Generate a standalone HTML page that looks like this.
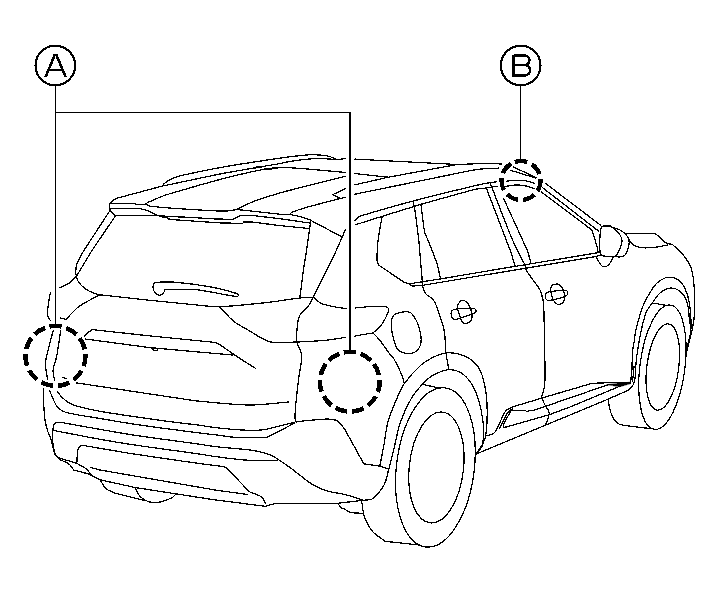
<!DOCTYPE html>
<html><head><meta charset="utf-8"><title>Diagram</title>
<style>
html,body{margin:0;padding:0;background:#fff;}
body{width:722px;height:592px;overflow:hidden;font-family:"Liberation Sans",sans-serif;}
svg{display:block}
</style></head><body>
<svg width="722" height="592" viewBox="0 0 722 592">
<rect width="722" height="592" fill="#fff"/>
<g shape-rendering="crispEdges" fill="none" stroke="#000" stroke-width="1.25" stroke-linecap="round" stroke-linejoin="round">
<path d="M161.8,186.2 C163,185 164.1,183.6 165.5,182.5 C166.8,181.4 168.4,180.6 169.9,179.8 C171.9,178.8 173.9,177.9 176,177.2 C178.1,176.4 180.3,175.8 182.5,175.3 C195.7,172.4 209,169.5 222.3,167.2 C241.3,163.8 260.4,161 279.5,158.2 C288.4,156.9 297.4,155.8 306.4,155 C309.6,154.7 312.8,154.7 316,154.8 C318.8,154.9 321.7,155.1 324.5,155.5 C326.7,155.8 328.9,156.3 331,157 C333.1,157.7 335.1,158.7 337.1,159.5"/>
<path d="M337.1,159.5 L345.8,158.6"/>
<path d="M109.4,206 C109.5,205.2 109.4,204.2 109.8,203.5 C110.2,202.7 111.1,202.1 111.8,201.5 C112.7,200.7 113.5,199.9 114.5,199.3 C115.6,198.7 116.9,198.4 118.1,197.9"/>
<path d="M118.1,197.9 L161.8,186.2 L222.3,173.5 L258.5,167.2 L279.8,163.6"/>
<path d="M279.8,163.6 C282.6,163 285.4,162.3 288.3,161.8 C293.2,161 298.1,160.1 303,159.6 C308.3,159 313.7,158.6 319,158.6 C325,158.6 331.1,159.2 337.1,159.5"/>
<path d="M254,167.9 L262,166.5" stroke-width="2"/>
<path d="M145.2,203.9 C146.8,203.1 148.4,202.2 150,201.5 C154.3,199.6 158.6,197.6 163,196 C167.6,194.3 172.4,193 177.1,191.6 C192.1,187.3 207.1,182.8 222.3,178.9 C236.7,175.2 251.1,171.6 265.7,169 C271.9,167.9 278.4,167.5 284.7,167.6 C293.7,167.7 302.8,168.7 311.8,169.4 C323.1,170.3 334.5,171.5 345.8,172.5"/>
<path d="M265,169.2 L277,168" stroke-width="2"/>
<path d="M236.8,209.3 C240.2,207.6 243.5,205.8 247,204.3 C250.8,202.6 254.6,201 258.5,199.7 C265.5,197.3 272.7,195.1 279.8,193 C285.6,191.3 291.5,189.9 297.3,188.4 C313.5,184.3 329.6,180.2 345.8,176.1"/>
<path d="M290.1,214.6 C290.6,213.9 290.8,212.9 291.5,212.5 C293.4,211.4 295.8,210.8 298,210 C300.8,209.1 303.6,208.2 306.4,207.4 C317.8,204.3 329.3,201.3 340.7,198.3"/>
<path d="M340.7,198.3 L345.8,197.4"/>
<path d="M340.7,198.3 L332.6,194.7 L345.8,188.4"/>
<path d="M355,159.1 L457.1,164.5 L488,163.3 L501.6,164"/>
<path d="M355,173.6 L388.4,177.2"/>
<path d="M355,184.8 L388.4,177.2 L457.1,164.5"/>
<path d="M355,194.2 C393.3,186.4 431.6,178.3 470,170.7 C475,169.7 480,169.1 485,168.6 C489.6,168.2 494.3,168.3 499,168.1"/>
<path d="M513.4,167 L536,177.5"/>
<path d="M510.7,170.3 L535.5,178"/>
<path d="M506.2,181.2 C508.8,180.9 511.4,180.4 514,180.3 C516.8,180.1 519.6,180.1 522.4,180.3 C524.3,180.4 526.2,180.8 528,181.3 C530.1,181.8 532.1,182.6 534.2,183.3"/>
<path d="M505.9,186.4 C508.3,186 510.6,185.4 513,185.2 C515.2,185 517.5,184.9 519.7,185.1 C522.1,185.3 524.6,185.6 527,186.2 C529.5,186.8 531.8,187.8 534.2,188.6"/>
<path d="M355,220.5 C356,219.4 356.8,218.1 358,217.3 C359.5,216.3 361.3,215.7 363.1,215.2 C379.6,210.3 396.2,205.5 412.8,201.1 C433.4,195.7 454.1,190.7 474.8,185.7 C479.8,184.5 484.9,183.5 490,182.6 C492,182.2 494.1,182.2 496.2,182"/>
<path d="M355,224.9 L382.1,216.4 L421,204.3 L474.8,189.3 L486.3,188 L497.1,186.2"/>
<path d="M382.1,216.4 C380.8,224.3 379.1,232.1 378.1,240 C377.4,246 377.1,252.1 376.9,258.1 C376.9,259.6 377.1,261.1 377.5,262.5 C377.8,263.5 378.5,264.4 379,265.3"/>
<path d="M379,265.3 L404.4,282.5 L408.9,283.9 L412.5,286.1"/>
<path d="M412.8,201.1 L414.6,207.4 L418.8,240 L422.4,282.5"/>
<path d="M421,204.3 C422.2,213.5 422.9,222.8 424.6,231.8 C425.2,234.7 426.8,237.3 427.9,240 C430.9,247.8 434.3,255.5 436.9,263.5 C438.5,268.5 439.3,273.8 440.5,278.9"/>
<path d="M408.9,283.9 L440.5,278.9 L499.8,268.9 L599.2,252.5"/>
<path d="M412.5,286.1 L423.3,285.2 L499.8,272.5 L596.1,256.5 L600.2,255"/>
<path d="M486.3,188 L510.7,251.7 L515,265.5"/>
<path d="M490.3,183.3 C497.1,200.8 503.7,218.5 510.8,235.9 C513,241.4 515.7,246.7 518.3,252 C520.4,256.4 522.8,260.7 525,265"/>
<path d="M503.5,198.3 L527.9,251.7 L531,263.8"/>
<path d="M545,183 L599.8,224.6 L601.2,226.1"/>
<path d="M542.3,187.5 L598.7,231.2"/>
<path d="M541.4,192 L592.1,230.2"/>
<path d="M592.1,230.2 C592.9,232.8 593.7,235.4 594.5,238 C595.4,241.1 596.4,244.2 597.2,247.4 C597.6,249.1 597.9,250.8 598.2,252.5"/>
<path d="M601.2,227.7 C602,226.6 603.9,225.8 605.3,225.6 C606.6,225.4 608.2,225.9 609.5,226.3 C610.9,226.7 612.3,227.3 613.4,228.2 C615.6,229.9 617.9,231.9 619.5,234.2 C620.7,236 621.9,238.2 622,240.3 C622.1,242.9 621.1,245.9 620,248.4 C618.9,251.1 617.7,254.8 615.4,256 C612.8,257.4 608.5,256.7 605.3,256.3 C603.6,256.1 601.4,255.4 600.7,254 C599.5,251.7 599.8,248.3 599.7,245.4 C599.6,241.3 599.9,237.2 600.2,233.2 C600.4,231.3 600.3,229.1 601.2,227.7Z"/>
<path d="M613.4,227.7 C615.8,228.5 618.3,229 620.5,230.2 C622.4,231.2 624,232.7 625.5,234.2 C626.7,235.4 628,236.8 628.6,238.3 C629.2,239.8 629.2,241.7 629.1,243.4 C628.9,245.8 628.4,248.3 627.6,250.5 C626.9,252.3 625.9,254.4 624.5,255.5 C623.2,256.5 621.2,256.9 619.5,257 C618.1,257.1 616.8,256.3 615.4,256"/>
<path d="M596.1,257 C597,258.5 597.7,260.1 598.7,261.6 C599.8,263.2 600.7,265.3 602.2,266.2 C603.4,266.9 605.5,266.8 606.8,266.2 C608.2,265.6 609.3,263.9 610.3,262.6 C611.5,260.9 612.4,258.9 613.4,257"/>
<path d="M603.5,225.8 L610,226.3" stroke-width="2"/>
<path d="M624.5,233.7 C634.5,233.7 644.8,232.7 654.4,233.7 C656.6,233.9 658.2,236.1 660,237.5 C662,239.1 663.4,241.5 665.6,242.7 C667.6,243.8 670.1,243.9 672.4,244.5"/>
<path d="M672.4,244.5 C674.6,246.5 676.9,248.4 679,250.5 C681.4,253 683.9,255.5 685.8,258.4 C688,261.7 690.4,265.2 691.5,269 C693.2,274.8 693.7,281 694.2,287.1 C694.8,294.9 695,302.8 694.7,310.6 C694.4,316.7 693.6,322.7 692.4,328.7 C690.7,337.2 688.1,345.6 686,354"/>
<path d="M628.6,239.3 C630.3,241.2 631.6,243.5 633.6,244.9 C635.3,246.2 637.6,246.8 639.7,247.4 C641.4,247.8 643.2,247.9 645,247.9 C648.3,247.9 651.7,247.7 655,247.3 C659.3,246.7 663.6,245.7 667.9,244.9"/>
<path d="M110,203.5 L135.1,203.5 L136.5,204.6 L146,204.6 L150.1,206.1 L162.6,207.5 L180.9,208.8 L198,209.9 L216,210.9 L228,210.9 L236.8,209.6 L246.7,210.5 L279.8,214.2 L290.1,214.6"/>
<path d="M290.1,214.6 C293.4,215.2 296.8,215.6 300,216.5 C303.4,217.4 306.7,218.8 310,220"/>
<path d="M310,220 L342.5,237.2"/>
<path d="M109.9,208.6 L139.3,208.6"/>
<path d="M139.3,208.6 C141.5,209.1 143.9,209.2 146,210 C148.9,211 151.5,212.7 154.3,214 C155.9,214.8 157.6,215.7 159.3,216.1 C161.4,216.6 163.7,216.4 165.9,216.6"/>
<path d="M165.9,216.6 L182.5,217 L198.4,217.9 L214,218.9 L232.8,219.4 L241,215.3 L252,215.4 L279.8,218.7 L310,223.1"/>
<path d="M115.4,215.5 L159.3,215.5 L165.9,216.9 L168.4,219 L176.7,219.9 L191,220.9 L205,221.9 L220,222.9 L242.8,223.4 L243.8,222 L252,222 L279.8,225.6 L309.1,228.5"/>
<path d="M109.4,206 C109.6,207.2 109.6,208.4 110,209.5 C110.4,210.6 111.2,211.6 112,212.5 C113,213.6 114.3,214.5 115.4,215.5"/>
<path d="M160,216.2 L167,216.8" stroke-width="2.2"/>
<path d="M109.9,210.6 L84.2,250"/>
<path d="M84.2,250 C82.9,252.3 81.5,254.6 80.3,257 C79.1,259.2 77.7,261.3 77,263.6 C76.2,266.2 75.8,269 75.7,271.7 C75.6,273.2 76.2,274.7 76.4,276.2"/>
<path d="M115.4,216 L92.3,250 L77,275.3"/>
<path d="M76.4,276.2 C74.3,278.3 72.4,280.8 70,282.5 C67,284.6 63.4,285.9 60.1,287.6"/>
<path d="M76.4,276.2 C76.9,277.7 77.1,279.3 77.9,280.7 C78.8,282.4 80.1,284.1 81.5,285.5 C83.1,287.1 85,288.6 86.9,289.8 C88.8,291 90.9,292 93,292.8 C95.1,293.6 97.4,294.1 99.6,294.8"/>
<path d="M99.6,294.8 L149.8,300.3 L208.7,306.2 L219.6,306.7"/>
<path d="M219.6,306.7 C224.4,306.4 229.2,306.2 234,305.8 C245.9,304.7 257.9,303.6 269.8,302.2 C279.8,301 289.8,299.2 299.8,298 C304.3,297.5 308.8,297.4 313.3,297.1"/>
<path d="M99.6,294.8 C93,298.5 86,301.8 79.7,306 C76.8,307.9 74.4,310.6 72,313 C69.9,315.1 68.1,317.4 66.1,319.6"/>
<path d="M66.1,319.6 L60.1,317.8"/>
<path d="M50.4,292.5 C49.8,296 49,299.5 48.5,303 C48,306.4 47.5,309.9 47.5,313.3 C47.5,314.7 47.8,316.2 48.3,317.5 C48.7,318.6 49.7,319.5 50.4,320.5"/>
<path d="M310.9,220 L306.4,251.7 L303.4,270 L299.8,298"/>
<path d="M345.3,230 L335.7,251.7 L326.9,270 L313.3,297.1"/>
<path d="M313.3,297.1 C311.8,299.8 310.7,302.8 308.8,305.3 C306.2,308.9 301.8,311.4 299.8,315.2 C297.9,318.9 297.5,323.6 297.1,327.9 C296.6,332.7 296.3,337.6 297.1,342.3 C297.8,346.7 301.4,350.6 301.6,355 C302,362.1 299.8,369.5 298.9,376.7 C298,384.5 297,392.2 296.2,400 C295.7,405.8 295,411.7 295,417.5 C295,419.2 295.8,420.8 296.2,422.5"/>
<path d="M153,286.3 C153.3,285.4 153.4,284.2 154,283.5 C154.5,282.9 155.4,282.3 156.3,282.3 C162.8,281.9 169.6,281.7 176.2,282.3 C188.3,283.4 200.4,285 212.3,287.2 C220.5,288.7 228.9,291 236.7,293.5 C237.6,293.8 238.8,295.4 238.5,295.7 C237.9,296.3 235.5,296.4 234,296.2 C220.7,294.3 207.5,290.7 194.2,289.5 C184.3,288.6 174.3,289.8 164.4,289.9"/>
<path d="M153,286.3 C153,290 155,293 157,294.5 C159,295.8 162,295.5 163.5,293 C164.2,292 164.4,291 164.4,289.9"/>
<path d="M219.6,306.7 C224.4,311.6 228.6,317.3 234,321.5 C239.5,325.8 246.1,328.7 252.1,332.4 C254.7,334 257.3,335.9 260,337.3 C263.5,339.1 267,341.3 270.8,342 C276,343 281.7,342.5 287.1,342.3 C299.2,342 311.3,341.5 323.3,340.5 C330.9,339.9 338.4,338.4 345.9,337.3"/>
<path d="M354.9,336 L373,332.9"/>
<path d="M313.3,297.1 C316,299.2 318.4,302.1 321.5,303.5 C326,305.5 331.1,306.1 336,307.1 C339.3,307.8 342.6,308 345.9,308.5"/>
<path d="M354.9,308 C361.8,307.4 368.8,306.5 375.7,306.2 C378.8,306 381.9,306.4 385,306.5"/>
<path d="M385,306.5 C386.1,307.1 387.7,307.4 388.3,308.3 C388.8,309.1 388.6,310.6 388.3,311.6 C387.5,314.2 386.3,316.7 385,319.1 C383.6,321.7 382,324.4 380,326.6 C378,329 375.3,330.8 373,332.9"/>
<path d="M373,332.9 C375.3,335.4 377.9,337.8 380,340.5 C383.5,344.9 386.4,349.7 389.8,354.1 C390.9,355.5 392.6,356.5 393.5,358.1 C396.5,363.3 399.2,368.8 401.6,374.4 C402.8,377.3 403.5,380.4 404.4,383.4"/>
<path d="M84.2,336.8 C85.5,335.4 86.6,333.8 88,332.5 C89.3,331.4 90.9,330.6 92.3,329.6"/>
<path d="M92.3,329.6 L149.8,335.9 L214.1,342.3"/>
<path d="M214.1,342.3 C215.9,343 217.9,343.5 219.6,344.5 C224.6,347.6 229.1,351.4 234,354.6 C241.2,359.4 248.5,363.9 255.7,368.5"/>
<path d="M85.1,339 L149.8,347.6 L232.2,355"/>
<path d="M151.8,348 C152,351 157.5,351.5 158,348.8"/>
<path d="M53.1,330.9 C51.5,337.1 49.7,343.3 48.2,349.6 C47.1,354.2 45.6,358.8 45.5,363.5 C45.4,368.8 46.8,374.1 47.5,379.4"/>
<path d="M60.7,330.9 C59.3,339.5 58.2,348.1 56.6,356.6 C55.7,361.3 53.5,365.8 53.1,370.4 C52.8,373.6 54,376.9 54.5,380.1"/>
<path d="M62.8,377.3 L66.9,378.7"/>
<path d="M76.6,382.9 L190,400"/>
<path d="M190,400 C193.3,400.4 196.7,401 200,401.3 C216.7,402.7 233.3,404.9 250,405 C262.9,405.1 275.8,403 288.8,402"/>
<path d="M43.8,388.8 C43.7,392.5 43.4,396.3 43.5,400 C43.8,406.7 44.1,413.4 45,420 C45.6,424.1 46.8,428.1 48,432 C48.9,434.7 50.4,437.3 51.2,440 C52.4,443.8 52.7,447.9 54,451.6 C54.8,453.7 56.3,455.5 57.5,457.5"/>
<path d="M49.4,390.2 C51,393.9 52.5,397.7 54.2,401.3 C55.2,403.4 56,405.9 57.7,407.5 C60,409.6 62.9,411.6 66,412.4 C77,415.3 88.7,416.5 100,418.5 C110,420.2 120,422 130,423.5 C141.6,425.3 153.3,426.9 165,428.5 C176.7,430.1 188.3,431.5 200,433 C205,433.6 210,434.2 215,434.8 C222.2,435.7 229.4,437 236.7,437.5 C244.4,438 252.2,437.9 260,437.8 C262.5,437.8 264.9,437.4 267.4,437.2"/>
<path d="M267.4,437.2 L294.6,423.1"/>
<path d="M57,390.9 C58.6,393 60,395.3 61.9,397.2 C64,399.3 66.3,401.2 68.8,402.7 C71.4,404.2 74.2,405.4 77.1,406.2 C84.6,408.3 92.3,409.9 100,411.3 C109.9,413.1 120,414.5 130,416 C141.7,417.7 153.3,419.4 165,421 C176.7,422.5 188.3,423.8 200,425.3 C205,426 210,427 215,427.6 C224,428.6 233.1,429.5 242.1,430 C247.4,430.3 252.7,430.3 258,430.2 C260.5,430.1 263.1,429.7 265.6,429.4"/>
<path d="M265.6,429.4 L294.6,422.2"/>
<path d="M296.4,421.6 C306,420.8 315.7,419.7 325.3,419.1 C327.9,419 330.5,419.1 333,419.5 C334.7,419.8 336.7,420.2 338,421.3 C340.4,423.2 342.2,426.1 344.3,428.5"/>
<path d="M344.3,428.5 L363.8,463.8 L380,466.2 L388.8,469"/>
<path d="M54.9,454 C54.2,450.3 53.2,446.6 52.9,442.9 C52.5,438.8 52.6,434.5 52.9,430.4 C53,428.3 53.3,425.9 54.2,424.2 C54.7,423.3 56,422.6 57,422.4 C59,422.1 61.1,422.7 63.2,422.8"/>
<path d="M63.2,422.8 C75.5,425 87.7,427.2 100,429.4 C110,431.1 120,432.9 130,434.5 C141.6,436.3 153.3,437.9 165,439.5 C176.7,441.1 188.3,442.6 200,444.3 C205,445 210,446 215,446.6 C227,448 239.2,448.6 251.2,450.2 C256.7,451 262.2,452.1 267.4,453.8 C270.6,454.8 273.6,456.5 276.5,458.3 C281.5,461.4 286.3,464.8 291,468.3 C298.3,473.6 305,479.8 312.6,484.6 C317,487.4 322.1,489.4 327.1,490.9 C332.8,492.7 339,493 344.8,494.5 C351.1,496.1 357.3,498.4 363.5,500.3"/>
<path d="M363.5,500.3 C366.5,499.8 370.2,500.5 372.5,498.8 C377.2,495.2 381.4,489.7 384.3,484.4 C386.8,479.8 387.3,474.1 388.8,469"/>
<path d="M53.5,430.4 C69,433.4 84.5,436.5 100,439.3 C110,441.1 120,442.8 130,444.3 C141.6,446.1 153.3,447.7 165,449.3 C176.7,450.9 188.3,452.4 200,454.1 C205,454.8 210,455.9 215,456.5 C225.8,457.9 236.6,459.6 247.5,460.2 C257.4,460.8 267.4,460.2 277.4,460.2"/>
<path d="M76.8,463.3 C77.1,458.8 77.1,454.1 77.8,449.7 C78,448.6 78.7,447.4 79.5,446.7 C80.3,446 81.6,445.8 82.7,445.4"/>
<path d="M82.7,445.4 C88.5,446.4 94.2,447.3 100,448.3 C110,450 120,451.8 130,453.4 C146.6,456 163.3,458.4 180,460.8 C191.7,462.5 203.3,463.9 215,465.6 C218.6,466.1 222.6,466 225.8,467.4 C228,468.4 229.5,471 231.3,472.8"/>
<path d="M231.3,472.8 L249.4,491.8"/>
<path d="M249.4,491.8 C253.6,493.6 258.5,494.6 262,497.2 C263.9,498.6 264.4,501.5 265.6,503.6"/>
<path d="M57.5,457.5 L76.8,463.3"/>
<path d="M76.8,463.3 C80,465.2 83.6,466.8 86.5,469.1 C88.8,471 90.1,474.1 92.4,475.9 C94.6,477.6 97.5,478.5 100.1,479.8"/>
<path d="M59.4,459.4 C62.6,461 66.3,462.1 69.1,464.2 C71.1,465.7 72.3,468.1 73.9,470.1"/>
<path d="M73.9,470.1 L88.5,473.9 L92.4,475.9"/>
<path d="M55,454.5 L58.5,458" stroke-width="2"/>
<path d="M90.4,467.5 L100,470 L215,490 L247.5,494.5"/>
<path d="M100.1,479.8 L135,487.5 L215,499.9 L265.6,506.3 L274.7,503.6 L338,503.3 L362.5,500.3"/>
<path d="M100.1,479.8 C102,482.7 103.4,486.2 105.9,488.5 C108,490.5 111.1,491.3 113.7,492.7"/>
<path d="M113.7,492.7 L144.7,500.5"/>
<path d="M135,487.5 C136.6,490.4 137.7,493.9 139.9,496.2 C142.2,498.6 145.4,500.8 148.6,501.7 C152.2,502.7 156.5,502.6 160.2,502 C164.2,501.3 168.3,499.6 171.9,497.8 C173.4,497 174.4,495.5 175.7,494.3"/>
<path d="M338,503.6 C339,504.9 339.8,506.5 341,507.5 C342,508.4 343.5,508.7 344.8,509.3 C346.8,510.3 348.6,511.9 350.8,512.4 C354.9,513.3 359.3,513 363.5,513.3"/>
<path d="M379.8,466.3 C381.1,459.8 382.4,453.2 383.6,446.7 C385.2,438.3 385.8,429.6 388.1,421.4 C390.3,413.4 393.8,405.6 397.1,397.9 C399.2,392.9 401.3,387.8 404.4,383.4 C409.1,376.9 414.7,370.7 420.6,365.3 C424.3,362 428.8,359.4 433.3,357.2 C437.3,355.3 441.7,353.5 446,353 C450.1,352.5 454.6,353 458.6,354.1 C463,355.3 467.7,357.1 471.3,359.9 C474.9,362.7 478.4,366.6 480.3,370.7 C483.2,376.8 484.6,383.9 485.7,390.6 C486.9,397.7 487.2,405.1 487.2,412.3 C487.2,420.1 486.9,428.1 485.7,435.8 C485.2,439.3 483.2,442.6 482,446"/>
<path d="M388.8,469 C390.7,461.6 392.5,454.1 394.4,446.7 C396.5,438.3 397.8,429.6 400.7,421.4 C403.6,413.3 407.3,405.3 411.6,397.9 C414.5,392.9 418.5,388.6 422.4,384.3 C425.1,381.3 428,378.2 431.5,376.2 C436.5,373.3 442.3,370.5 447.8,369.8 C451.9,369.3 456.8,370.4 460.4,372.5 C464.7,375 468.5,379.2 471.3,383.4 C474.5,388.3 476.8,394.1 478.5,399.7 C480.7,406.7 482.1,414.1 483,421.4 C483.7,426.9 483.5,432.5 483.3,438 C483.2,440.7 483.1,443.6 482,446 C480.7,448.8 478,451.1 476,453.6"/>
<path d="M482.3,445.5 L478.3,451.3" stroke-width="2"/>
<path d="M422.4,384.3 L438.7,387.9"/>
<ellipse cx="435.4" cy="467.4" rx="38.9" ry="80.1" transform="rotate(7 435.4 467.4)"/>
<ellipse cx="436.4" cy="467.5" rx="27.1" ry="55.7" transform="rotate(6.4 436.4 467.5)"/>
<path d="M361.7,501.5 C362.6,506.6 362.7,512.1 364.4,516.9 C366.3,522 369,527.3 372.5,531.4 C375.9,535.4 381,538 385.2,541.3"/>
<path d="M385.2,541.3 L417.8,544.9 L427.7,547.6"/>
<path d="M400.8,312.3 C403.7,311.8 407.2,311.4 409.9,312.3 C411.7,312.9 413,314.9 414.1,316.6 C415.8,319.1 417.2,322 418.2,324.9 C419.4,328.1 420.1,331.5 420.7,334.9 C421.1,337.1 421.4,339.4 421.1,341.6 C420.7,344.1 420,346.9 418.6,349 C417.5,350.7 415.4,352 413.5,352.8 C411.9,353.5 409.8,353.6 408,353.6 C406.2,353.5 404.2,353.2 402.5,352.5 C400.6,351.7 398.5,350.6 397.4,349 C395.7,346.7 394.9,343.5 394.1,340.7 C393,336.9 392,333 391.5,329.1 C391.1,326.1 391.1,322.9 391.6,320 C391.9,318.2 392.8,316.1 394.1,315 C395.8,313.6 398.5,312.7 400.8,312.3Z"/>
<path d="M462.9,300.2 C464.2,300.1 465.9,301.5 467,302.5 C468.2,303.6 469.1,305.1 469.8,306.6 C470.6,308.3 471.2,310.2 471.5,312 C471.9,313.9 472.1,315.9 471.9,317.7 C471.8,318.9 471.3,320.3 470.5,321.2 C469.5,322.3 467.8,323.2 466.3,323.6 C465.4,323.8 464.2,323.7 463.5,323.2 C462.6,322.6 462,321.5 461.5,320.5 C461,319.6 460.7,318.6 460.4,317.7 C459.7,315.8 459.1,313.9 458.5,312 C458,310.5 457.3,308.8 457.3,307.3 C457.3,305.9 457.8,304.3 458.7,303.2 C459.7,301.9 461.5,300.3 462.9,300.2Z"/>
<path d="M451.1,314.2 C451,313 451,311.3 451.8,310.6 C453.1,309.5 455.4,309.3 457.3,309 C461.4,308.4 465.6,308.2 469.8,308.1 C471.4,308.1 473.2,308.2 474.6,308.7 C475.2,308.9 475.9,309.8 476,310.4 C476.1,311 475.8,312 475.3,312.5 C474.2,313.4 472.6,314.1 471.2,314.6 C467.6,315.9 463.8,316.8 460.1,318 C458.7,318.4 457.3,319.3 455.9,319.4 C454.8,319.5 453.2,319.2 452.5,318.4 C451.6,317.4 451.2,315.6 451.1,314.2Z"/>
<path d="M555.8,284.1 C556.8,284 558.1,283.8 558.9,284.4 C560.4,285.4 561.9,287.1 562.7,288.9 C563.9,291.6 564.8,295 564.8,297.9 C564.8,299.6 563.8,301.5 562.7,302.8 C561.9,303.7 560.4,304.3 559.2,304.5 C558.3,304.6 557.2,304.3 556.5,303.8 C555.3,302.8 554.1,301.5 553.4,300 C552.1,297.1 550.8,293.8 550.6,290.7 C550.5,288.8 551.2,286.5 552.3,285.1 C553,284.3 554.6,284.2 555.8,284.1Z"/>
<path d="M545.4,295.9 C545.6,294.8 545.6,293.3 546.4,292.7 C547.5,291.9 549.4,291.9 550.9,291.7 C554.8,291.1 558.8,290.4 562.7,290.2 C564.1,290.1 565.8,290.3 566.9,290.9 C567.5,291.2 567.9,292.4 567.9,293.1 C567.9,293.8 567.5,294.7 566.9,295.2 C565.7,296.1 564.2,296.7 562.7,297.2 C559.8,298.2 556.7,299.1 553.7,299.7 C551.7,300.1 549.3,300.8 547.5,300.4 C546.5,300.2 545.8,298.8 545.4,297.9 C545.1,297.3 545.3,296.5 545.4,295.9Z"/>
<path d="M422.4,282.5 C422.7,284.6 422.7,286.8 423.3,288.8 C423.9,290.7 424.8,292.7 426.1,294.2 C428.1,296.4 431.6,297.3 433.3,299.7 C435.8,303.3 437.2,308 438.7,312.3 C440.8,318.2 442.9,324.3 444.1,330.4 C445.2,335.7 445.1,341.3 445.6,346.7 C445.8,348.8 445.7,350.9 446,353 C446.7,358.3 447.8,363.6 448.7,368.9"/>
<path d="M525,265 C525.4,266.7 525.5,268.5 526.2,270 C528.1,273.5 530.7,276.7 533,280 C535.3,283.4 538.2,286.4 540,290 C541.5,293.1 542.3,296.6 543,300 C543.5,302.4 543.7,305 543.8,307.5 C544.3,328.3 544.8,349.2 545,370 C545.1,375.1 545.2,380.3 544.6,385.4 C544.1,389.6 542.5,393.6 541.5,397.7"/>
<path d="M541.5,397.7 C542.7,400.1 543.8,402.6 545,405 C546.4,407.7 549.1,410.2 549.2,413 C549.3,417 546.7,421.2 545.5,425.3"/>
<path d="M485.2,436.2 C488,435.3 491.2,435.1 493.5,433.5 C495.3,432.3 496.3,429.9 497.4,427.9 C500.3,422.5 502.1,416.2 505.5,411.3 C506.8,409.3 509.6,408.6 511.6,407.2"/>
<path d="M511.6,407.2 L541.3,398.2 L570,389.8 L591.2,383.6"/>
<path d="M591.2,383.6 C594.2,383.4 597.1,383.1 600,383 C610,382.7 620,382.7 630,382.5"/>
<path d="M499.5,428.5 C502.2,423.2 504.5,417.4 507.7,412.5 C508.8,410.8 510.9,410 512.5,408.8"/>
<path d="M511,410.6 C508.4,415.5 505.5,420.3 503.3,425.2 C503.1,425.7 503.3,426.6 503.6,427 C503.9,427.3 504.5,427.3 505,427.4"/>
<path d="M511,410.6 L524,410.2 L526.8,411.3 L535.1,409.9 L546.2,406.1 L570,397.8 L610,384.2"/>
<path d="M504.6,427.4 L549,414.8 L570,407 L620,386.2 L630,382.8"/>
<path d="M475.5,454.3 L542,426.6 L570,415 L607.5,399.4 L627.5,390.6"/>
<path d="M627.5,390.6 C629.2,389.2 631.4,388.1 632.5,386.2 C633.9,384.1 634.5,381.3 635,378.8 C635.5,375.9 635.4,372.9 635.6,370 C635.9,366 636,362 636.5,358 C637.3,352 638.4,346 639.4,340"/>
<path d="M607,384.6 L630,382.2 L630.6,383.6 L620,386.6Z" fill="#000" stroke-width="0.6"/>
<path d="M634,366 L633.8,370 L632.5,381"/>
<path d="M630.6,382.5 C631,378.3 631.6,374.2 631.9,370 C632.3,364 632,358 632.5,352 C632.8,348 633.9,344 634.5,340 C634.9,337.4 634.8,334.8 635.4,332.3 C637.5,323.8 639.4,315.1 642.6,307 C645.4,300 649.3,293.3 653.5,287.1 C655.4,284.3 658.1,281.7 661,280 C663.6,278.4 666.9,277 669.8,277.2 C673.5,277.5 678.1,279 680.6,281.7 C684.1,285.4 686.2,291.1 687.8,296.2 C689.6,301.9 690.1,308.2 690.6,314.2 C691.1,320.2 691.4,326.4 690.6,332.3 C689.8,338.4 687.5,344.4 686,350.4"/>
<path d="M639.4,340 C639.9,337.4 640.2,334.8 640.8,332.3 C642.4,325.6 643.7,318.7 646.2,312.4 C647.6,308.8 650.3,305.7 652.6,302.5 C655.1,299 657.4,295 660.7,292.5 C663.7,290.2 668,287.8 671.6,288 C675.3,288.2 679.8,290.7 682.4,293.5 C685.2,296.5 686.8,301.1 687.8,305.2 C689.2,311 689,317.3 689.6,323.3"/>
<path d="M652.6,303 L665.2,305.2"/>
<ellipse cx="662.4" cy="367.2" rx="22.5" ry="62.6" transform="rotate(7.3 662.4 367.2)"/>
<ellipse cx="662.8" cy="367" rx="15.9" ry="43.5" transform="rotate(7.5 662.8 367)"/>
<path d="M608.2,399.2 C608.8,402.8 609,406.5 610,410 C610.9,413.2 612.1,416.4 613.8,419.2 C614.8,420.9 616.4,422.4 618,423.5 C619.4,424.5 621.3,424.7 623,425.3"/>
<path d="M623,425.3 L653.8,429"/>
</g>
<g shape-rendering="crispEdges">
<g shape-rendering="crispEdges" fill="#000">
<rect x="55" y="86" width="1" height="239"/>
<rect x="55" y="112" width="296" height="1"/>
<rect x="349" y="112" width="2" height="239"/>
<rect x="520" y="86" width="1" height="74"/>
</g>
<circle cx="55.3" cy="65.5" r="19.8" fill="none" stroke="#000" stroke-width="2.15"/>
<circle cx="520.7" cy="65.5" r="19.8" fill="none" stroke="#000" stroke-width="2.15"/>
<path d="M44.4,76.6 L53.6,54.1 L57.4,54.1 L66.9,76.6 L64.1,76.6 L61.8,71.2 L49.4,71.2 L47.2,76.6Z M50.3,69 L60.9,69 L55.5,56.2Z" fill="#000" fill-rule="evenodd"/>
<path d="M513.6,55.4 H523.5 C531.5,55.4 531.5,65 523.5,65 H513.6 M523.5,65 C532.3,65 532.3,75.6 523.5,75.6 H513.6 V55.4" fill="none" stroke="#000" stroke-width="2.5" stroke-linejoin="miter"/>
<circle cx="55.5" cy="355.9" r="30" fill="none" stroke="#000" stroke-width="4.5" stroke-dasharray="12.200 4.936" transform="rotate(-101.65 55.5 355.9)"/>
<circle cx="349.8" cy="381.7" r="29.9" fill="none" stroke="#000" stroke-width="4.5" stroke-dasharray="12.200 4.879" transform="rotate(-101.69 349.8 381.7)"/>
<circle cx="521" cy="180.5" r="19.5" fill="none" stroke="#000" stroke-width="4.3" stroke-dasharray="12.600 4.903" transform="rotate(-108.51 521 180.5)"/>
</g>
</svg>
</body></html>
